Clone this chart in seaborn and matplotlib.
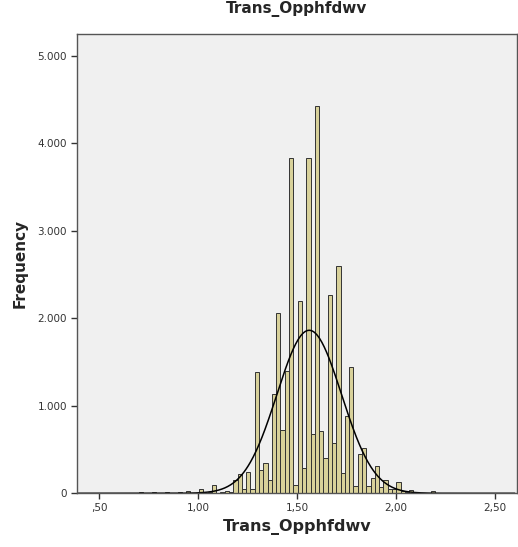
import numpy as np
import pandas as pd
import matplotlib
matplotlib.use("Agg")
import matplotlib.pyplot as plt
import seaborn as sns
from matplotlib.ticker import FuncFormatter, FixedLocator

# ---- data ----
title = "Trans_Opphfdwv"
x_label = "Trans_Opphfdwv"
y_label = "Frequency"
bin_start = 0.6805          # left edge of the first bin
bin_width = 0.02165
counts = [
    0, 12, 0, 0, 12, 0, 0, 12, 0, 8, 12, 5, 26, 5, 0, 46, 5, 10, 95, 8,
    20, 30, 15, 152, 225, 50, 244, 50,
    1381, 267, 343, 149, 1133, 2056, 721, 1400, 3829, 95, 2200, 294, 3829,
    675, 4424, 713, 408, 2265, 580, 2594, 237, 885, 1438,
    84, 446, 523, 84, 180, 308, 72, 152, 45, 46, 134, 26, 15, 34, 12, 8, 5,
    8, 26, 5, 5, 8, 5, 5, 3,
]
x_ticks = [0.5, 1.0, 1.5, 2.0, 2.5]
y_ticks = [0, 1000, 2000, 3000, 4000, 5000]

# ---- derived ----
counts = np.array(counts, dtype=float)
edges = bin_start + bin_width * np.arange(len(counts) + 1)
centers = (edges[:-1] + edges[1:]) / 2
df = pd.DataFrame({"value": centers, "count": counts})

sns.set_style("white")
plt.rcParams["font.family"] = ["DejaVu Sans"]

fig = plt.figure(figsize=(5.18, 5.47), dpi=100)
ax = fig.add_axes([0.1481, 0.0982, 0.8494, 0.8397])
ax.set_facecolor("#F0F0F0")

sns.histplot(data=df, x="value", weights="count", bins=list(edges), ax=ax,
             color="#D8D19A", edgecolor="#333333", linewidth=0.7, alpha=1.0)

# normal curve from the data's mean and sd
n = counts.sum()
mean = np.sum(centers * counts) / n
sd = np.sqrt(np.sum(counts * (centers - mean) ** 2) / (n - 1))
xs = np.linspace(0.39, 2.6, 600)
ys = n * bin_width * np.exp(-0.5 * ((xs - mean) / sd) ** 2) / (sd * np.sqrt(2 * np.pi))
sns.lineplot(x=xs, y=ys, ax=ax, color="black", linewidth=1.1)

ax.set_xlim(0.3874, 2.6096)
ax.set_ylim(0, 5248)
ax.xaxis.set_major_locator(FixedLocator(x_ticks))
ax.yaxis.set_major_locator(FixedLocator(y_ticks))

def fx(v, p):
    s = f"{v:.2f}".replace(".", ",")
    if s.startswith("0"):
        s = s[1:]
    return s

def fy(v, p):
    return f"{int(round(v)):,}".replace(",", ".")

ax.xaxis.set_major_formatter(FuncFormatter(fx))
ax.yaxis.set_major_formatter(FuncFormatter(fy))
ax.tick_params(axis="both", which="major", direction="out", length=4, width=1,
               color="#333333", labelsize=7.5, labelcolor="#333333", pad=3)
ax.tick_params(axis="x", bottom=True, top=False)
ax.tick_params(axis="y", left=True, right=False)

for s in ax.spines.values():
    s.set_visible(True)
    s.set_color("#555555")
    s.set_linewidth(1.0)

ax.set_title(title, fontsize=11, fontweight="bold", pad=15)
ax.set_xlabel(x_label, fontsize=11.5, fontweight="bold", labelpad=4)
ax.set_ylabel(y_label, fontsize=11, fontweight="bold", labelpad=7)

fig.savefig("out.png", dpi=100, facecolor="white")
